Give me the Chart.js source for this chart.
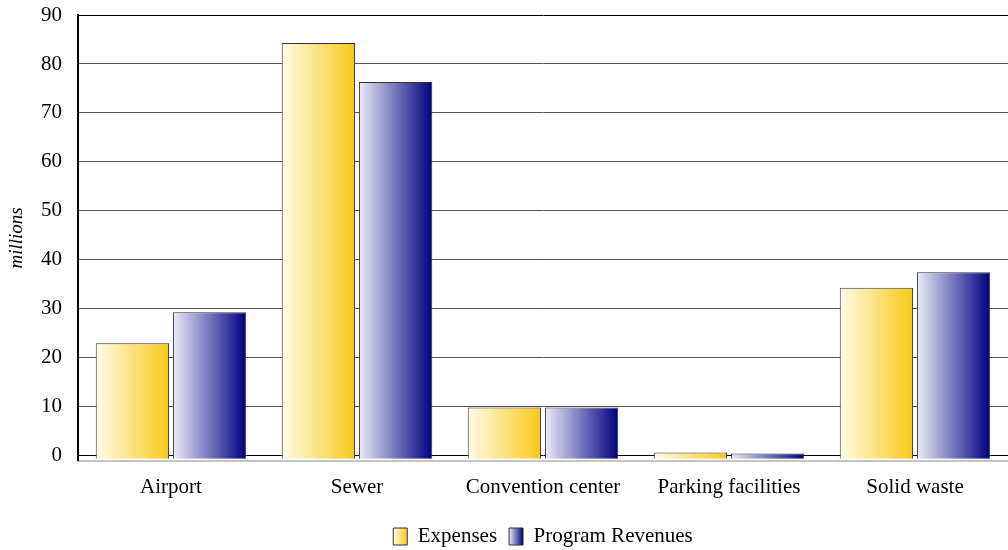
<!DOCTYPE html>
<html>
<head>
<meta charset="utf-8">
<script src="https://cdn.jsdelivr.net/npm/chart.js@4"></script>
<style>
  html, body { margin: 0; background: #fff; }
  #wrap { width: 1008px; height: 550px; }
</style>
</head>
<body>
<div id="wrap"><canvas id="chart"></canvas></div>
<script>
const categories = ['Airport', 'Sewer', 'Convention center', 'Parking facilities', 'Solid waste'];
const expenses = [23.0, 84.3, 9.9, 0.7, 34.3];
const revenues = [29.3, 76.3, 9.9, 0.5, 37.5];
const yTicks = [0, 10, 20, 30, 40, 50, 60, 70, 80, 90];
const seriesNames = ['Expenses', 'Program Revenues'];
const shades = [['#fffbea', '#f8c918'], ['#ebebf7', '#000080']];

const CAT_PCT = 0.83, BAR_PCT = 0.95;
const FONT = "'Liberation Serif', 'Times New Roman', serif";

function gradient(ctx, left, width, pair) {
  const g = ctx.createLinearGradient(left, 0, left + width, 0);
  g.addColorStop(0, pair[0]);
  g.addColorStop(1, pair[1]);
  return g;
}

function barFill(c) {
  const chart = c.chart;
  const xs = chart.scales.x;
  const pair = shades[c.datasetIndex];
  if (!xs || !chart.chartArea || c.dataIndex === undefined) return pair[1];
  const cw = xs.width / categories.length;
  const group = cw * CAT_PCT, slot = group / 2, bw = slot * BAR_PCT;
  const left = xs.getPixelForValue(c.dataIndex) - group / 2 + c.datasetIndex * slot + (slot - bw) / 2;
  return gradient(chart.ctx, left, bw, pair);
}

const legendShade = {
  id: 'legendShade',
  beforeDraw(chart) {
    const lg = chart.legend;
    if (!lg || !lg.legendHitBoxes) return;
    lg.legendItems.forEach((it, i) => {
      const hb = lg.legendHitBoxes[i];
      if (hb) it.fillStyle = gradient(chart.ctx, hb.left, 14, shades[i]);
    });
  }
};

new Chart(document.getElementById('chart'), {
  type: 'bar',
  data: {
    labels: categories,
    datasets: [
      { label: seriesNames[0], data: expenses, backgroundColor: barFill, base: -0.6,
        borderColor: '#333', borderWidth: 1, categoryPercentage: CAT_PCT, barPercentage: BAR_PCT },
      { label: seriesNames[1], data: revenues, backgroundColor: barFill, base: -0.6,
        borderColor: '#333', borderWidth: 1, categoryPercentage: CAT_PCT, barPercentage: BAR_PCT },
    ]
  },
  plugins: [legendShade],
  options: {
    responsive: true,
    maintainAspectRatio: false,
    animation: false,
    layout: { padding: { top: 0, right: 0, bottom: -7, left: 0 } },
    plugins: {
      tooltip: { enabled: false },
      legend: {
        position: 'bottom',
        fullSize: false,
        labels: {
          font: { family: FONT, size: 21 }, color: '#000',
          boxWidth: 14, boxHeight: 17, padding: 12,
          generateLabels: (chart) => seriesNames.map((t, i) => ({
            text: t, fillStyle: shades[i][1], strokeStyle: '#333', lineWidth: 1, datasetIndex: i
          }))
        }
      }
    },
    scales: {
      x: {
        afterFit: (s) => { s.height += 8; },
        grid: { display: false },
        border: { display: true, color: '#c4c4c4', width: 2 },
        ticks: { font: { family: FONT, size: 21 }, color: '#000', padding: 6 }
      },
      y: {
        min: -1, max: 90,
        afterBuildTicks: (s) => { s.ticks = yTicks.map(v => ({ value: v })); },
        afterFit: (s) => { s.width = 78; s.paddingTop = 15; s.paddingBottom = 0; },
        grid: {
          color: (c) => (c.tick && (c.tick.value === 90 || c.tick.value === 0)) ? '#000' : '#555',
          lineWidth: 1, drawTicks: false
        },
        border: { display: true, color: '#000', width: 2 },
        ticks: { font: { family: FONT, size: 21 }, color: '#000', padding: 16 },
        title: { display: true, text: 'millions', font: { family: FONT, size: 19, style: 'italic' }, color: '#000', padding: { top: 6, bottom: 0 } }
      }
    }
  }
});
</script>
</body>
</html>
